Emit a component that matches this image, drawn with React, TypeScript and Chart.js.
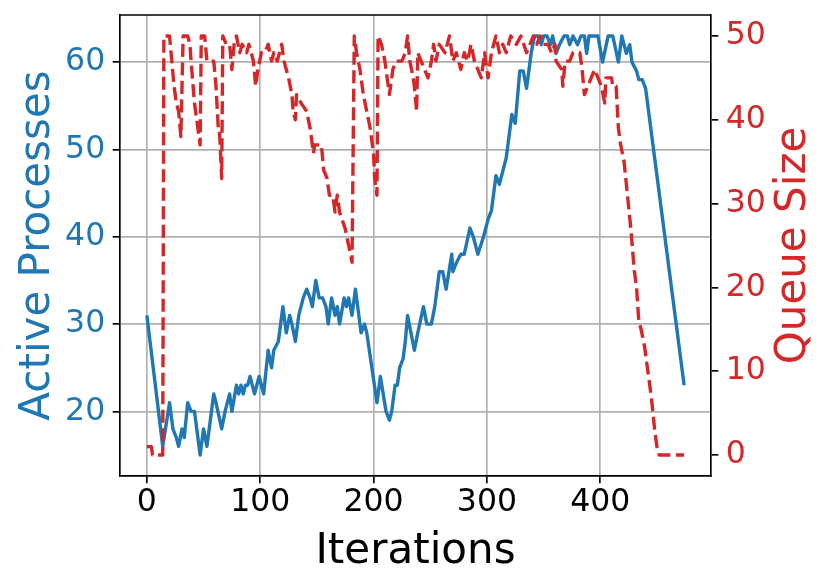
import React, { useEffect, useRef } from "react";
import { Chart, registerables } from "chart.js";
Chart.register(...registerables);

const procIter = [0,14,20,23,26,28,31,33,36,39,42,47,50,53,59,61,66,69,73,75,79,81,83,85,87,89,91,93,95,97,99,101,103,107,110,112,116,120,123,126,128,131,134,138,141,144,146,149,152,155,158,160,163,166,168,170,174,176,178,181,184,187,189,192,194,203,206,211,214,216,219,221,223,226,228,230,233,236,239,244,247,251,254,258,261,264,269,270,273,277,280,285,288,292,297,301,304,308,311,317,322,325,329,332,335,339,342,345,348,350,353,356,358,361,364,368,371,373,376,380,383,386,388,390,394,398,402,407,411,416,419,423,426,428,432,434,437,440,474];
const procVals = [31,16,21,18,17,16,18,17,21,20,20,15,18,16,22,21,18,20,22,20,23,22,23,22,23,23,24,23,22,23,24,23,22,27,25,27,28,32,29,31,30,28,31,33,34,33,32,35,33,33,32,30,33,31,32,30,33,32,33,31,34,31,29,30,29,21,24,20,19,20,23,23,25,26,28,31,29,27,29,32,30,30,32,36,36,34,38,36,37,38,38,41,40,38,40,42,43,47,46,49,54,53,59,59,57,61,63,63,62,63,63,62,63,61,62,63,63,62,63,62,63,63,61,63,63,63,60,63,63,60,63,61,62,60,59,58,58,57,23];

const queueIter = [0,4,5,14,15,20,22,24,26,28,30,32,36,38,39,42,44,47,48,51,53,57,59,61,63,64,66,67,70,73,75,77,79,82,84,88,90,94,96,98,101,104,107,110,112,115,119,121,125,128,129,131,132,136,141,144,147,148,151,154,156,159,161,164,166,168,170,175,178,181,183,185,188,191,194,197,200,201,203,204,207,210,213,214,217,220,225,228,230,232,235,236,238,239,242,245,248,251,253,255,258,263,267,270,273,277,280,283,286,289,295,298,301,304,308,311,314,317,321,326,330,335,338,341,344,347,350,354,357,360,361,366,367,369,373,376,379,382,384,386,389,392,395,398,401,404,405,410,411,414,416,418,421,424,427,430,432,434,436,439,442,445,448,450,452,474];
const queueVals = [1,1,0,0,50,50,47,44,42,41,38,50,50,49,47,42,40,37,50,50,47,47,47,44,39,39,33,50,49,49,46,49,50,48,49,48,49,47,44,46,48,48,49,47,48,47,49,47,45,43,41,40,43,42,41,39,36,37,37,37,34,33,31,31,29,31,29,27,25,23,50,48,46,43,41,39,36,33,31,50,49,47,44,43,46,47,47,48,50,47,45,44,41,48,47,46,45,47,49,47,49,48,50,47,48,46,48,47,49,47,45,48,45,48,50,48,49,48,50,49,50,48,49,50,49,50,49,49,48,49,47,46,44,47,47,48,48,48,46,43,44,45,46,45,44,42,45,45,44,44,39,37,35,31,27,22,20,16,15,13,10,7,3,1,0,0];

const xTicks = [0, 100, 200, 300, 400];
const leftTicks = [20, 30, 40, 50, 60];
const rightTicks = [0, 10, 20, 30, 40, 50];

const BLUE = "#1f77b4";
const RED = "#d62728";
const FONT = "'DejaVu Sans', sans-serif";
const LW = 1.67;

export default function App() {
  const ref = useRef<HTMLCanvasElement>(null);
  useEffect(() => {
    if (!ref.current) return;
    const extras = {
      id: "extras",
      afterDraw(chart: any) {
        const { ctx, chartArea } = chart;
        ctx.save();
        ctx.strokeStyle = "#000";
        ctx.lineWidth = LW;
        ctx.beginPath();
        ctx.moveTo(chartArea.left, chartArea.top);
        ctx.lineTo(chartArea.right, chartArea.top);
        ctx.stroke();
        ctx.font = `42px ${FONT}`;
        ctx.textAlign = "center";
        ctx.textBaseline = "alphabetic";
        const cy = (chartArea.top + chartArea.bottom) / 2;
        ctx.save();
        ctx.fillStyle = BLUE;
        ctx.translate(49, cy);
        ctx.rotate(-Math.PI / 2);
        ctx.fillText("Active Processes", 0, 0);
        ctx.restore();
        ctx.save();
        ctx.fillStyle = RED;
        ctx.translate(805, cy);
        ctx.rotate(-Math.PI / 2);
        ctx.fillText("Queue Size", 0, 0);
        ctx.restore();
        ctx.fillStyle = "#000";
        ctx.fillText("Iterations", (chartArea.left + chartArea.right) / 2, 563);
        ctx.restore();
      },
    };
    const tickFont = { family: FONT, size: 31.5 };
    const gridBase = { color: "#b0b0b0", lineWidth: LW, tickColor: "#000", tickWidth: LW, tickLength: 7.3 };
    const chart = new Chart(ref.current, {
      type: "line",
      data: {
        datasets: [
          {
            label: "Queue Size",
            data: queueIter.map((x, i) => ({ x, y: queueVals[i] })),
            borderColor: RED,
            borderWidth: 3.4,
            borderDash: [13, 5.5],
            borderJoinStyle: "round",
            pointRadius: 0,
            tension: 0,
            yAxisID: "y1",
            order: 0,
          },
          {
            label: "Active Processes",
            data: procIter.map((x, i) => ({ x, y: procVals[i] })),
            borderColor: BLUE,
            borderWidth: 3.4,
            borderJoinStyle: "round",
            pointRadius: 0,
            tension: 0,
            yAxisID: "y",
            order: 1,
          },
        ],
      },
      options: {
        animation: false,
        responsive: false,
        events: [],
        layout: { padding: { top: 15, left: 0, right: 0, bottom: 0 } },
        plugins: { legend: { display: false }, tooltip: { enabled: false } },
        scales: {
          x: {
            type: "linear",
            min: -23.7,
            max: 497.7,
            afterBuildTicks: (s: any) => { s.ticks = xTicks.map((v) => ({ value: v })); },
            afterFit: (s: any) => { s.height = 110; s.paddingLeft = 0; s.paddingRight = 0; },
            ticks: { color: "#000", font: tickFont, padding: 0.5, maxRotation: 0, autoSkip: false },
            grid: { ...gridBase },
            border: { color: "#000", width: LW },
          },
          y: {
            type: "linear",
            position: "left",
            min: 12.6,
            max: 65.4,
            afterBuildTicks: (s: any) => { s.ticks = leftTicks.map((v) => ({ value: v })); },
            afterFit: (s: any) => { s.width = 120; s.paddingTop = 0; s.paddingBottom = 0; },
            ticks: { color: BLUE, font: tickFont, padding: 7.5, autoSkip: false },
            grid: { ...gridBase },
            border: { color: "#000", width: LW },
          },
          y1: {
            type: "linear",
            position: "right",
            min: -2.5,
            max: 52.5,
            afterBuildTicks: (s: any) => { s.ticks = rightTicks.map((v) => ({ value: v })); },
            afterFit: (s: any) => { s.width = 120; s.paddingTop = 0; s.paddingBottom = 0; },
            ticks: { color: RED, font: tickFont, padding: 7.5, autoSkip: false },
            grid: { ...gridBase, drawOnChartArea: false },
            border: { color: "#000", width: LW },
          },
        },
      },
      plugins: [extras],
    } as any);
    return () => chart.destroy();
  }, []);
  return (
    <div style={{ position: "absolute", left: 0, top: 0, width: 831, height: 586, background: "#fff" }}>
      <canvas ref={ref} width={831} height={586} style={{ width: 831, height: 586, display: "block" }} />
    </div>
  );
}
